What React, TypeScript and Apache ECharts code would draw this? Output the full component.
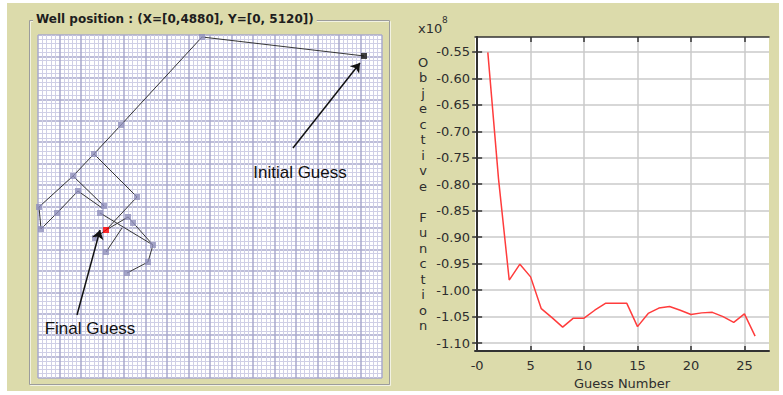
import React, { useEffect, useRef } from 'react';
import * as echarts from 'echarts';

// ---------- Right chart data ----------
const guessNumbers = [1, 2, 3, 4, 5, 6, 7, 8, 9, 10, 11, 12, 13, 14, 15, 16, 17, 18, 19, 20, 21, 22, 23, 24, 25, 26];
const objectiveValues = [
  -0.551, -0.79, -0.981, -0.951, -0.975, -1.035, -1.052, -1.07, -1.053, -1.053,
  -1.038, -1.025, -1.025, -1.025, -1.069, -1.044, -1.034, -1.031, -1.038, -1.046,
  -1.043, -1.042, -1.05, -1.061, -1.045, -1.087,
];
const xTickValues = [0, 5, 10, 15, 20, 25];
const xTickLabels = ['-0', '5', '10', '15', '20', '25'];
const yTickValues = [-0.55, -0.6, -0.65, -0.7, -0.75, -0.8, -0.85, -0.9, -0.95, -1.0, -1.05, -1.1];
const yTickLabels = ['-0.55', '-0.60', '-0.65', '-0.70', '-0.75', '-0.80', '-0.85', '-0.90', '-0.95', '-1.00', '-1.05', '-1.10'];
const xAxisTitle = 'Guess Number';
const yAxisTitle = 'Objective Function';
const yScaleBase = 'x10';
const yScaleExponent = '8';

// ---------- Left chart (well positions) data ----------
const wellTitle = 'Well position : (X=[0,4880], Y=[0, 5120])';
const wellXMax = 4880;
const wellYMax = 5120;
const wellPaths = [
  [[4625, 313], [2327, 30], [1177, 1343], [794, 1776], [497, 2105], [14, 2567], [43, 2896], [270, 2657], [567, 2329], [908, 2582]],
  [[497, 2105], [936, 2552]],
  [[794, 1776], [1404, 2418], [965, 2911], [809, 3030]],
  [[880, 2657], [1631, 3135], [1560, 3389], [1263, 3553]],
  [[965, 2911], [1277, 2717], [1631, 3135]],
  [[1192, 2881], [965, 3239]],
];
const wellMarkers = [
  [2327, 30], [1177, 1343], [794, 1776], [497, 2105], [14, 2567], [43, 2896], [270, 2657],
  [567, 2329], [936, 2552], [880, 2657], [1404, 2418], [809, 3030], [1631, 3135],
  [1560, 3389], [1263, 3553], [1277, 2717], [1348, 2806], [965, 3239],
];
const initialGuess = [4625, 313];
const finalGuess = [965, 2911];
const initialArrow = [[3617, 1687], [4568, 418]];
const finalArrow = [[553, 4180], [880, 2911]];
const initialLabel = 'Initial Guess';
const finalLabel = 'Final Guess';

const KHAKI = '#dcdbab';
const TICK_FONT = 'DejaVu Sans';

function pickLabel(values: number[], labels: string[], v: number): string {
  for (let i = 0; i < values.length; i++) {
    if (Math.abs(values[i] - v) < 1e-6) return labels[i];
  }
  return '';
}

export default function App() {
  const ref = useRef<HTMLDivElement>(null);
  useEffect(() => {
    if (!ref.current) return;
    const chart = echarts.init(ref.current, undefined, { renderer: 'svg' });
    const darkAxis = { show: true, lineStyle: { color: '#333', width: 2 } };
    const option: any = {
      animation: false,
      backgroundColor: '#ffffff',
      grid: [
        { left: 38, top: 35, width: 344, height: 343, show: true, backgroundColor: '#ffffff', borderWidth: 0 },
        { left: 475, top: 37, width: 294, height: 314, show: true, backgroundColor: '#ffffff', borderWidth: 0 },
      ],
      xAxis: [
        {
          gridIndex: 0, type: 'value', min: 0, max: wellXMax, interval: 305,
          axisLine: { show: false }, axisTick: { show: false }, axisLabel: { show: false },
          splitLine: { show: true, lineStyle: { color: '#a8a8cc', width: 1.5 } },
          minorTick: { show: false, splitNumber: 5 },
          minorSplitLine: { show: true, lineStyle: { color: '#cfcfe6', width: 1 } },
        },
        {
          gridIndex: 1, type: 'value', min: -0.2, max: 27.3, position: 'bottom',
          axisLine: darkAxis,
          axisTick: { show: true, inside: true, length: 5, customValues: xTickValues, lineStyle: { color: '#333', width: 1.5 } },
          axisLabel: {
            customValues: xTickValues, color: '#2e2e2e', fontSize: 13, fontFamily: TICK_FONT, margin: 8,
            formatter: (v: number) => pickLabel(xTickValues, xTickLabels, v),
          },
          splitLine: { show: true, lineStyle: { color: '#cacaca', width: 1.5 } },
          name: xAxisTitle, nameLocation: 'middle', nameGap: 26,
          nameTextStyle: { color: '#2e2e2e', fontSize: 13, fontFamily: TICK_FONT, verticalAlign: 'top' },
        },
        {
          gridIndex: 1, type: 'value', min: -0.2, max: 27.3, position: 'top',
          axisLine: { show: true, lineStyle: { color: '#333', width: 1.5 } },
          axisTick: { show: true, inside: true, length: 5, customValues: xTickValues, lineStyle: { color: '#333', width: 1.5 } },
          axisLabel: { show: false },
          splitLine: { show: false },
        },
      ],
      yAxis: [
        {
          gridIndex: 0, type: 'value', min: 0, max: wellYMax, interval: 320, inverse: true,
          axisLine: { show: false }, axisTick: { show: false }, axisLabel: { show: false },
          splitLine: { show: true, lineStyle: { color: '#a8a8cc', width: 1.5 } },
          minorTick: { show: false, splitNumber: 5 },
          minorSplitLine: { show: true, lineStyle: { color: '#cfcfe6', width: 1 } },
        },
        {
          gridIndex: 1, type: 'value', min: -1.115, max: -0.522, position: 'left',
          axisLine: darkAxis,
          axisTick: { show: true, inside: true, length: 5, customValues: yTickValues, lineStyle: { color: '#333', width: 1.5 } },
          axisLabel: {
            customValues: yTickValues, color: '#2e2e2e', fontSize: 13, fontFamily: TICK_FONT, margin: 5,
            formatter: (v: number) => pickLabel(yTickValues, yTickLabels, v),
          },
          splitLine: { show: true, lineStyle: { color: '#cacaca', width: 1.5 } },
          name: yAxisTitle.split('').join('\n'), nameLocation: 'middle', nameRotate: 0, nameGap: 52,
          nameTextStyle: { color: '#2e2e2e', fontSize: 13, fontFamily: TICK_FONT, lineHeight: 15.5, align: 'center', verticalAlign: 'middle' },
        },
        {
          gridIndex: 1, type: 'value', min: -1.115, max: -0.522, position: 'right',
          axisLine: { show: true, lineStyle: { color: '#333', width: 1.5 } },
          axisTick: { show: true, inside: true, length: 5, customValues: yTickValues, lineStyle: { color: '#333', width: 1.5 } },
          axisLabel: { show: false },
          splitLine: { show: false },
        },
      ],
      series: [
        {
          type: 'lines', coordinateSystem: 'cartesian2d', xAxisIndex: 0, yAxisIndex: 0, polyline: true,
          silent: true, z: 3,
          lineStyle: { color: '#353535', width: 1, opacity: 1 },
          data: wellPaths.map((p) => ({ coords: p })),
        },
        {
          type: 'scatter', xAxisIndex: 0, yAxisIndex: 0, symbol: 'rect', symbolSize: 6, silent: true, z: 4,
          itemStyle: { color: '#9090bc' },
          data: wellMarkers,
        },
        {
          type: 'scatter', xAxisIndex: 0, yAxisIndex: 0, symbol: 'rect', symbolSize: 6, silent: true, z: 5,
          itemStyle: { color: '#111' },
          data: [initialGuess],
        },
        {
          type: 'lines', coordinateSystem: 'cartesian2d', xAxisIndex: 0, yAxisIndex: 0,
          silent: true, z: 6, symbol: ['none', 'arrow'], symbolSize: 9,
          lineStyle: { color: '#111', width: 1.5, opacity: 1 },
          data: [{ coords: initialArrow }, { coords: finalArrow }],
        },
        {
          type: 'scatter', xAxisIndex: 0, yAxisIndex: 0, symbol: 'rect', symbolSize: 6, silent: true, z: 7,
          itemStyle: { color: '#ff0000' },
          data: [finalGuess],
        },
        {
          type: 'line', xAxisIndex: 1, yAxisIndex: 1, showSymbol: false, symbol: 'none', silent: true, z: 5,
          lineStyle: { color: '#ff3c3c', width: 1.5 },
          data: guessNumbers.map((g, i) => [g, objectiveValues[i]]),
        },
      ],
      graphic: [
        { type: 'rect', z: -100, silent: true, shape: { x: 7, y: 3, width: 772, height: 388 }, style: { fill: KHAKI } },
        { type: 'rect', z: -50, silent: true, shape: { x: 30.5, y: 21.5, width: 360, height: 364 }, style: { fill: null, stroke: '#f2f2e2', lineWidth: 1 } },
        { type: 'rect', z: -49, silent: true, shape: { x: 29.5, y: 20.5, width: 360, height: 364 }, style: { fill: null, stroke: '#9c9c9c', lineWidth: 1 } },
        {
          type: 'text', z: 50, silent: true, x: 33, y: 19,
          style: {
            text: wellTitle, fill: '#1e1e1e', font: 'bold 12px "DejaVu Sans"', textVerticalAlign: 'middle',
            backgroundColor: KHAKI, padding: [1, 3, 1, 3],
          },
        },
        {
          type: 'text', z: 50, silent: true, x: 300, y: 172,
          style: { text: initialLabel, fill: '#111', font: '17px "Liberation Sans"', textAlign: 'center', textVerticalAlign: 'middle' },
        },
        {
          type: 'text', z: 50, silent: true, x: 90, y: 328,
          style: { text: finalLabel, fill: '#111', font: '17px "Liberation Sans"', textAlign: 'center', textVerticalAlign: 'middle' },
        },
        {
          type: 'text', z: 50, silent: true, x: 418, y: 28,
          style: { text: yScaleBase, fill: '#2e2e2e', font: '13px "DejaVu Sans"', textVerticalAlign: 'middle' },
        },
        {
          type: 'text', z: 50, silent: true, x: 442, y: 20,
          style: { text: yScaleExponent, fill: '#2e2e2e', font: '9px "DejaVu Sans"', textVerticalAlign: 'middle' },
        },
      ],
    };
    chart.setOption(option);
    return () => chart.dispose();
  }, []);
  return <div ref={ref} style={{ position: 'fixed', left: 0, top: 0, width: 783, height: 395 }} />;
}
